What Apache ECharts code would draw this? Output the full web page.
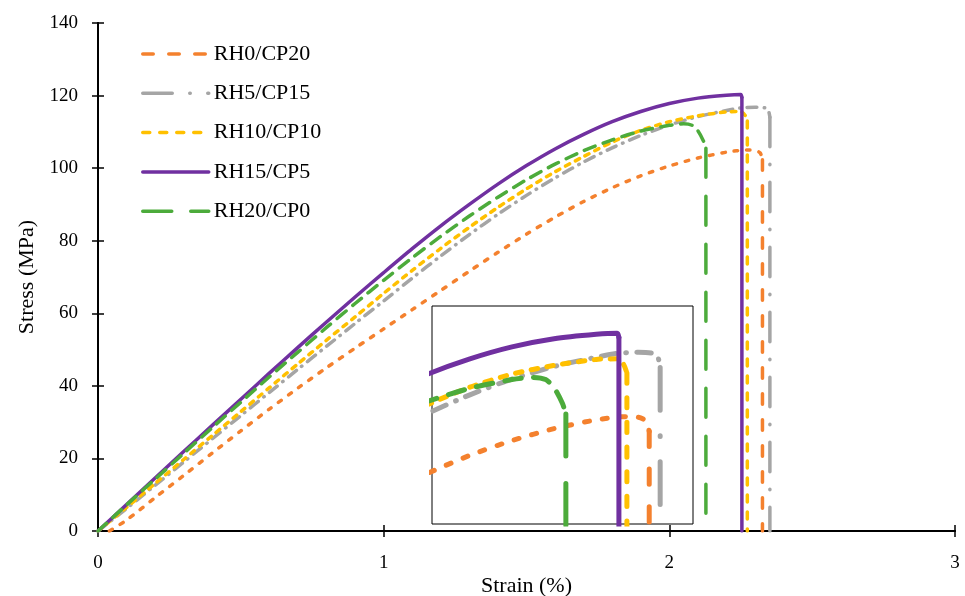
<!DOCTYPE html>
<html><head><meta charset="utf-8">
<script src="https://cdn.jsdelivr.net/npm/echarts@6/dist/echarts.min.js"></script>
<style>html,body{margin:0;padding:0;background:#fff}#c{width:965px;height:596px}</style>
</head><body><div id="c"></div><script>
// ---- data ----
const seriesNames = ['RH0/CP20', 'RH5/CP15', 'RH10/CP10', 'RH15/CP5', 'RH20/CP0'];
const xTicks = [0, 1, 2, 3];
const yTicks = [0, 20, 40, 60, 80, 100, 120, 140];

const strainRH0 = [0.04,0.1,0.2,0.3,0.4,0.5,0.6,0.7,0.8,0.9,1.0,1.1,1.2,1.3,1.4,1.5,1.6,1.7,1.8,1.9,2.0,2.1,2.2,2.27,2.3,2.318,2.326];
const stressRH0 = [0,3.0,9.2,15.3,21.5,27.6,33.6,39.4,45.0,50.4,55.7,61.0,66.3,71.6,76.8,81.8,86.5,90.8,94.6,97.9,100.6,102.8,104.4,105.0,104.9,104.2,102.3];

const strainRH5 = [0,0.1,0.2,0.3,0.4,0.5,0.6,0.7,0.8,0.9,1.0,1.1,1.2,1.3,1.4,1.5,1.6,1.7,1.8,1.9,2.0,2.1,2.2,2.25,2.3,2.335,2.347,2.352];
const stressRH5 = [0,6.2,12.6,19.0,25.4,31.8,38.2,44.6,50.9,57.2,63.4,69.7,75.8,81.7,87.3,92.5,97.3,101.7,105.6,109.0,111.9,114.2,115.9,116.6,116.8,116.6,115.8,114.0];

const strainRH10 = [0,0.1,0.2,0.3,0.4,0.5,0.6,0.7,0.8,0.9,1.0,1.1,1.2,1.3,1.4,1.5,1.6,1.7,1.8,1.9,2.0,2.1,2.2,2.25,2.265,2.273];
const stressRH10 = [0,6.5,13.1,19.7,26.3,32.9,39.5,46.1,52.6,59.0,65.5,71.8,77.9,83.7,89.2,94.3,99.0,103.2,107.2,110.4,112.8,114.4,115.5,115.6,114.6,113.0];

const strainRH15 = [0,0.1,0.2,0.3,0.4,0.5,0.6,0.7,0.8,0.9,1.0,1.1,1.2,1.3,1.4,1.5,1.6,1.7,1.8,1.9,2.0,2.1,2.2,2.25,2.254];
const stressRH15 = [0,7.3,14.6,21.9,29.1,36.3,43.5,50.6,57.6,64.5,71.2,77.8,84.1,90.0,95.6,100.7,105.3,109.3,112.8,115.6,117.8,119.3,120.1,120.3,119.5];

const strainRH20 = [0,0.1,0.2,0.3,0.4,0.5,0.6,0.7,0.8,0.9,1.0,1.1,1.2,1.3,1.4,1.5,1.6,1.7,1.8,1.9,2.0,2.05,2.08,2.1,2.12,2.128];
const stressRH20 = [0,7.2,14.3,21.4,28.5,35.5,42.5,49.3,56.1,62.7,69.1,75.3,81.2,86.8,92.0,96.8,101.1,104.8,107.8,110.2,111.8,112.2,111.8,110.3,107.4,105.5];

// inset view window
const insetStrainRange = [1.81, 2.43];
const insetStressRange = [85.3, 125.3];

// ---- styles ----
const colors = ['#F4812E', '#A5A5A5', '#FFC000', '#7030A0', '#4CAB3B'];
const curveDash = [[3.5, 9], [10, 7, 0.5, 7], [4.5, 6.5], 'solid', [11.5, 8.5]];
const dropDash = [[10.5, 15.5], [29.5, 17.5, 0.5, 17.5], [7, 10], 'solid', [29, 19]];
const strains = [strainRH0, strainRH5, strainRH10, strainRH15, strainRH20];
const stresses = [stressRH0, stressRH5, stressRH10, stressRH15, stressRH20];

const FONT = 'Liberation Serif';
function scaleDash(d, k) { return d === 'solid' ? 'solid' : d.map(v => v * k); }
function pairs(xs, ys) { return xs.map((x, i) => [x, ys[i]]); }
function dropOf(xs, ys) { const n = xs.length - 1; return [[xs[n], ys[n]], [xs[n], 0]]; }

const series = [];
[0, 1].forEach(g => {
  const w = g === 0 ? 3.5 : 5;
  const k = g === 0 ? 1 : 1.45;
  seriesNames.forEach((name, i) => {
    const base = {
      type: 'line', xAxisIndex: g === 0 ? 0 : 2, yAxisIndex: g === 0 ? 0 : 2,
      showSymbol: false, symbol: 'none', silent: true, clip: true,
      z: g === 0 ? 2 : 10,
      emphasis: { disabled: true }
    };
    series.push(Object.assign({}, base, {
      name: g === 0 ? name : 'inset ' + name,
      data: pairs(strains[i], stresses[i]),
      smooth: 0.25,
      lineStyle: { color: colors[i], width: w, type: scaleDash(curveDash[i], k), cap: 'round', join: 'round' },
      itemStyle: { color: colors[i] }
    }));
    series.push(Object.assign({}, base, {
      name: (g === 0 ? 'drop ' : 'inset drop ') + name,
      data: dropOf(strains[i], stresses[i]),
      lineStyle: { color: colors[i], width: w, type: scaleDash(dropDash[i], k), cap: 'round', join: 'round' },
      itemStyle: { color: colors[i] }
    }));
  });
});

const axisLine = { show: true, lineStyle: { color: '#000', width: 2 } };
const tick = { show: true, inside: true, length: 6, lineStyle: { color: '#000', width: 1.5 } };
const labelStyle = { color: '#000', fontFamily: FONT, fontSize: 19 };

const option = {
  animation: false,
  backgroundColor: '#fff',
  grid: [
    { left: 98, right: 10, top: 23, bottom: 65, containLabel: false, outerBoundsMode: 'none' },
    { left: 432, top: 306, width: 261, height: 218, show: true, borderColor: '#000', borderWidth: 1, backgroundColor: '#fff', z: 5, outerBoundsMode: 'none' }
  ],
  legend: {
    orient: 'vertical', left: 136, top: 38, itemWidth: 66, itemHeight: 14, itemGap: 17.3,
    selectedMode: false,
    textStyle: { fontFamily: FONT, fontSize: 22, color: '#000' },
    data: seriesNames.map((n, i) => ({
      name: n,
      itemStyle: { color: 'rgba(0,0,0,0)', borderWidth: 0, opacity: 0 },
      lineStyle: { type: dropDash[i], cap: 'round', width: 3.5, color: colors[i], opacity: 1 }
    }))
  },
  xAxis: [
    { type: 'value', gridIndex: 0, min: xTicks[0], max: xTicks[xTicks.length - 1], interval: 1, position: 'bottom',
      name: 'Strain (%)', nameLocation: 'middle', nameGap: 44, nameMoveOverlap: false,
      nameTextStyle: { color: '#000', fontFamily: FONT, fontSize: 22 },
      axisLine, axisTick: tick, splitLine: { show: false },
      axisLabel: Object.assign({ margin: 23 }, labelStyle) },
    { type: 'value', gridIndex: 0, min: xTicks[0], max: xTicks[xTicks.length - 1], interval: 1, position: 'top',
      axisLine, axisTick: tick, splitLine: { show: false }, axisLabel: { show: false } },
    { type: 'value', gridIndex: 1, min: insetStrainRange[0], max: insetStrainRange[1], show: false }
  ],
  yAxis: [
    { type: 'value', gridIndex: 0, min: yTicks[0], max: yTicks[yTicks.length - 1], interval: 20, position: 'left',
      name: 'Stress (MPa)', nameLocation: 'middle', nameGap: 60, nameRotate: 90, nameMoveOverlap: false,
      nameTextStyle: { color: '#000', fontFamily: FONT, fontSize: 22 },
      axisLine, axisTick: tick, splitLine: { show: false },
      axisLabel: Object.assign({ margin: 20 }, labelStyle) },
    { type: 'value', gridIndex: 0, min: yTicks[0], max: yTicks[yTicks.length - 1], interval: 20, position: 'right',
      axisLine, axisTick: tick, splitLine: { show: false }, axisLabel: { show: false } },
    { type: 'value', gridIndex: 1, min: insetStressRange[0], max: insetStressRange[1], show: false }
  ],
  series
};
const chart = echarts.init(document.getElementById('c'), null, { renderer: 'canvas' });
chart.setOption(option);
</script></body></html>
